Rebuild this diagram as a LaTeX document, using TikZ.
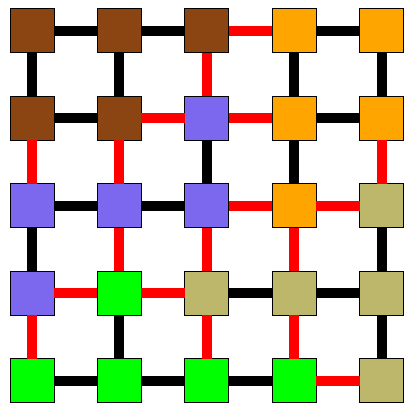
\documentclass[tikz,border=0pt]{standalone}
\definecolor{cbrown}{HTML}{8B4513}
\definecolor{corange}{HTML}{FFA500}
\definecolor{cpurple}{HTML}{7B68EE}
\definecolor{cgreen}{HTML}{00FF00}
\definecolor{ckhaki}{HTML}{BDB76B}
\begin{document}
\begin{tikzpicture}[x=1pt,y=-1pt,
  cell/.style={draw=black,line width=1pt,minimum size=44pt,inner sep=0pt,outer sep=0pt},
  same/.style={draw=black,line width=10pt},
  diff/.style={draw=red,line width=10pt}]
\useasboundingbox (0,0) rectangle (412,412);
\def\pitch{87.4}
% cells
\foreach \r/\rowcols in {0/{cbrown,cbrown,cbrown,corange,corange},
                          1/{cbrown,cbrown,cpurple,corange,corange},
                          2/{cpurple,cpurple,cpurple,corange,ckhaki},
                          3/{cpurple,cgreen,ckhaki,ckhaki,ckhaki},
                          4/{cgreen,cgreen,cgreen,cgreen,ckhaki}}{
  \foreach \col [count=\ci from 0] in \rowcols {
    \node[cell,fill=\col] (n\r\ci) at ({32+\ci*\pitch},{31+\r*\pitch}) {};
  }
}
% horizontal edges
\draw[same] (n00) -- (n01); \draw[same] (n01) -- (n02); \draw[diff] (n02) -- (n03); \draw[same] (n03) -- (n04);
\draw[same] (n10) -- (n11); \draw[diff] (n11) -- (n12); \draw[diff] (n12) -- (n13); \draw[same] (n13) -- (n14);
\draw[same] (n20) -- (n21); \draw[same] (n21) -- (n22); \draw[diff] (n22) -- (n23); \draw[diff] (n23) -- (n24);
\draw[diff] (n30) -- (n31); \draw[diff] (n31) -- (n32); \draw[same] (n32) -- (n33); \draw[same] (n33) -- (n34);
\draw[same] (n40) -- (n41); \draw[same] (n41) -- (n42); \draw[same] (n42) -- (n43); \draw[diff] (n43) -- (n44);
% vertical edges
\draw[same] (n00) -- (n10); \draw[diff] (n10) -- (n20); \draw[same] (n20) -- (n30); \draw[diff] (n30) -- (n40);
\draw[same] (n01) -- (n11); \draw[diff] (n11) -- (n21); \draw[diff] (n21) -- (n31); \draw[same] (n31) -- (n41);
\draw[diff] (n02) -- (n12); \draw[same] (n12) -- (n22); \draw[diff] (n22) -- (n32); \draw[diff] (n32) -- (n42);
\draw[same] (n03) -- (n13); \draw[same] (n13) -- (n23); \draw[diff] (n23) -- (n33); \draw[diff] (n33) -- (n43);
\draw[same] (n04) -- (n14); \draw[diff] (n14) -- (n24); \draw[same] (n24) -- (n34); \draw[same] (n34) -- (n44);
\end{tikzpicture}
\end{document}
